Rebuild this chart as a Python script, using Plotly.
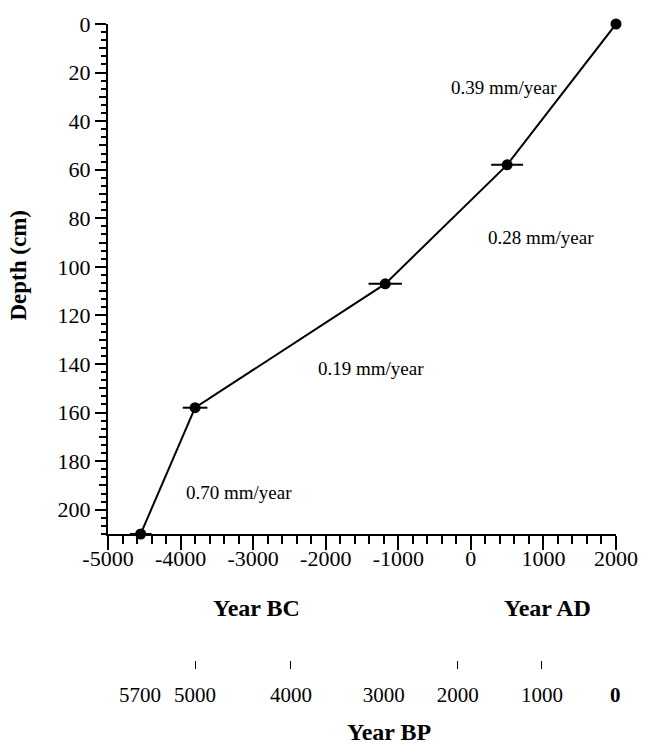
import plotly.graph_objects as go

# ---- data ----
years_ad = [2000, 500, -1180, -3800, -4550]
depth_cm = [0, 58, 107, 158, 210]
age_err = [0, 220, 230, 170, 150]

x_ticks = [-5000, -4000, -3000, -2000, -1000, 0, 1000, 2000]
x_ticktext = ["-5000", "-4000", "-3000", "-2000", "-1000", "0", "1000", "2000"]
y_ticks = [0, 20, 40, 60, 80, 100, 120, 140, 160, 180, 200]
y_mid_ticks = [10, 30, 50, 70, 90, 110, 130, 150, 170, 190]

bp_labels = ["5700", "5000", "4000", "3000", "2000", "1000", "<b>0</b>"]
bp_label_pos = [-4560, -3800, -2480, -1200, -180, 980, 1990]
bp_tick_pos = [-3800, -2480, -180, 980]

rate_text = ["0.39 mm/year", "0.28 mm/year", "0.19 mm/year", "0.70 mm/year"]
rate_x = [461, 963, -1370, -3189]
rate_y = [26, 88, 142, 193]

FONT = "Liberation Serif"
W, H = 650, 744
ML, MR, MT, MB = 108, 26, 19, 84
plot_h = H - MT - MB
y_bottom_px = 533
ydom0 = (H - MB - y_bottom_px) / plot_h

def py(px):
    return (H - MB - px) / plot_h

fig = go.Figure()
fig.add_trace(go.Scatter(
    x=years_ad, y=depth_cm, mode="lines+markers",
    line=dict(color="black", width=2),
    marker=dict(color="black", size=11),
    error_x=dict(type="data", array=age_err, color="black", thickness=2, width=0),
    cliponaxis=False, showlegend=False, hoverinfo="skip",
))
# helper traces so overlay axes are drawn
fig.add_trace(go.Scatter(x=[None], y=[None], xaxis="x2", yaxis="y", showlegend=False, hoverinfo="skip"))
fig.add_trace(go.Scatter(x=[None], y=[None], xaxis="x3", yaxis="y", showlegend=False, hoverinfo="skip"))
fig.add_trace(go.Scatter(x=[None], y=[None], xaxis="x", yaxis="y2", showlegend=False, hoverinfo="skip"))

tickfont = dict(family=FONT, size=22, color="black")

fig.update_layout(
    width=W, height=H,
    margin=dict(l=ML, r=MR, t=MT, b=MB),
    paper_bgcolor="white", plot_bgcolor="white",
    xaxis=dict(
        range=[-5000, 2000], domain=[0, 1], anchor="y",
        tickmode="array", tickvals=x_ticks, ticktext=x_ticktext,
        ticks="outside", ticklen=14, tickwidth=2, tickcolor="black",
        showline=True, linewidth=2, linecolor="black",
        showgrid=False, zeroline=False, tickfont=tickfont,
        ticklabelstandoff=-10,
        minor=dict(dtick=200, tick0=0, ticks="outside", ticklen=8, tickwidth=1.5, tickcolor="black", showgrid=False),
    ),
    xaxis2=dict(
        overlaying="x", matches="x", range=[-5000, 2000], anchor="free", position=0,
        tickmode="array", tickvals=bp_tick_pos, ticks="outside", ticklen=8, tickwidth=1,
        tickcolor="black", showticklabels=False, showline=False, showgrid=False, zeroline=False,
    ),
    xaxis3=dict(
        overlaying="x", matches="x", range=[-5000, 2000], anchor="free", position=0,
        tickmode="array", tickvals=bp_label_pos, ticktext=bp_labels,
        ticks="outside", ticklen=16, tickcolor="rgba(0,0,0,0)",
        showline=False, showgrid=False, zeroline=False,
        tickfont=dict(family=FONT, size=21, color="black"),
    ),
    yaxis=dict(
        range=[210, 0], domain=[ydom0, 1], anchor="x",
        tickmode="array", tickvals=y_ticks,
        ticks="outside", ticklen=11, tickwidth=2, tickcolor="black",
        showline=True, linewidth=2, linecolor="black",
        showgrid=False, zeroline=False, tickfont=tickfont,
        minor=dict(dtick=20 / 6, tick0=0, ticks="outside", ticklen=5, tickwidth=1.5, tickcolor="black", showgrid=False),
    ),
    yaxis2=dict(
        overlaying="y", matches="y", range=[210, 0], anchor="x", side="left",
        tickmode="array", tickvals=y_mid_ticks, ticks="outside", ticklen=8, tickwidth=1.5,
        tickcolor="black", showticklabels=False, showline=False, showgrid=False, zeroline=False,
    ),
)

ann = []
for t, x, y in zip(rate_text, rate_x, rate_y):
    ann.append(dict(text=t, x=x, y=y, xref="x", yref="y", showarrow=False,
                    xanchor="center", yanchor="middle",
                    font=dict(family=FONT, size=19, color="black")))
bold = dict(family=FONT, size=24, color="black")
for t, x, y in [("<b>Year BC</b>", -2960, 608), ("<b>Year AD</b>", 1058, 608), ("<b>Year BP</b>", -1126, 733)]:
    ann.append(dict(text=t, x=x, y=py(y), xref="x", yref="paper", showarrow=False,
                    xanchor="center", yanchor="middle", font=bold))
ann.append(dict(text="<b>Depth (cm)</b>", x=(17 - ML) / (W - ML - MR), y=py(262), xref="paper", yref="paper",
                showarrow=False, textangle=-90, xanchor="center", yanchor="middle",
                font=dict(family=FONT, size=23, color="black")))
fig.update_layout(annotations=ann)

fig.write_html("out.html")
